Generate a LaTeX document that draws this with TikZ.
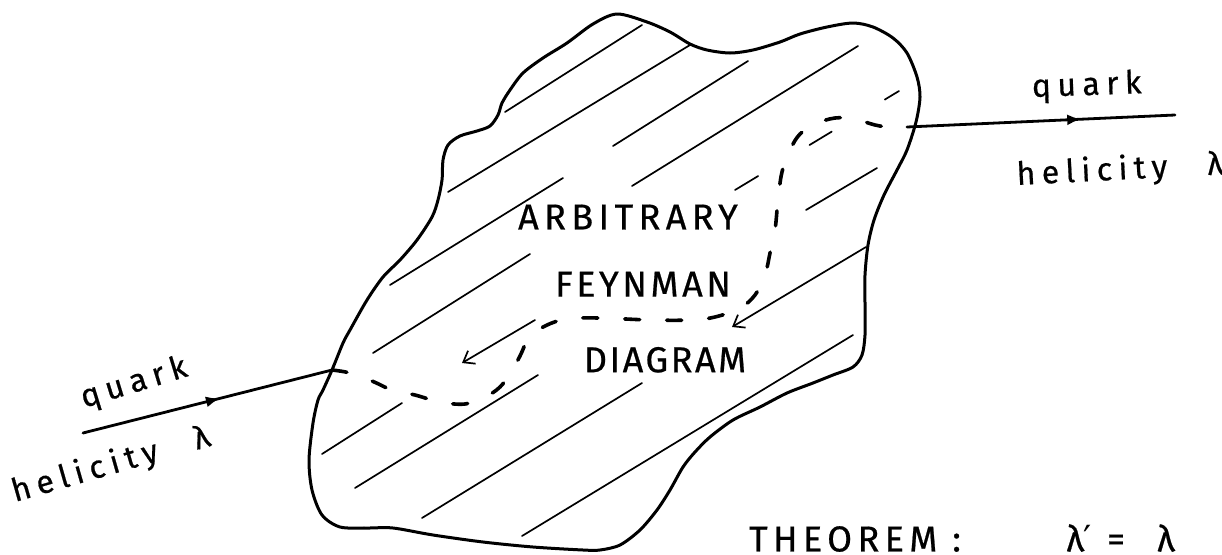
\documentclass[tikz,border=0pt]{standalone}
\usepackage{fontspec}
\setmainfont{Fira Sans}[FakeBold=0.6]
\newfontfamily\symbols{DejaVu Sans}
\usetikzlibrary{positioning,arrows.meta,decorations.markings}
\definecolor{ink}{RGB}{0,0,0}
\tikzset{
  outline/.style={draw=ink, line width=3pt, line join=round},
  hatch/.style={draw=ink, line width=1.7pt, line cap=round},
  backflow/.style={hatch, -{Straight Barb[length=10pt, width=15pt]}},
  quarkline/.style={draw=ink, line width=2.8pt, line cap=round, postaction=decorate,
    decoration={markings, mark=at position #1 with {\arrow{Latex[length=14pt, width=11pt]}}}},
  quarkline/.default=0.55,
  hidden/.style={draw=ink, line width=3.6pt, line cap=round, dash pattern=on 15pt off 27pt},
  word/.style={inner sep=0pt, text=ink, font=\fontsize{36}{40}\selectfont\addfontfeature{LetterSpace=15}},
  tight/.style={font=\fontsize{36}{40}\selectfont\addfontfeature{LetterSpace=#1}},
  tag/.style={inner sep=0pt, text=ink, font=\fontsize{32}{36}\selectfont\addfontfeature{LetterSpace=20}}
}

\begin{document}
\begin{tikzpicture}[x=1pt, y=-1pt, node distance=40pt]
  \useasboundingbox (0,0) rectangle (1222,554);

  \draw[outline] plot[smooth cycle, tension=0.5] coordinates {
    (617,14) (647,22) (670,32) (690,44) (707,50) (730,53) (753,50) (780,42) (800,34)
    (827,27) (853,23) (873,27) (893,38) (907,53) (917,77) (920,97) (916,122) (907,150)
    (897,170) (884,195) (874,220) (868,245) (865,275) (865,305) (865,335) (862,355)
    (853,367) (833,375) (813,383) (787,393) (760,407) (733,420) (710,437) (695,452)
    (683,467) (670,490) (657,510) (640,530) (620,545) (600,550) (583,550) (533,547)
    (483,542) (433,535) (393,528) (367,528) (340,527) (322,515) (312,490) (309,460)
    (313,423) (318,400) (323,390) (332,370) (343,343) (350,330) (367,300) (383,277)
    (400,260) (417,240) (432,217) (438,200) (442,180) (443,160) (448,145) (460,136)
    (477,131) (490,126) (498,115) (502,103) (510,90) (523,73) (543,58) (567,43) (593,24)};

  \draw[hatch] (505,112) -- (642,25);
  \draw[hatch] (448,192) -- (690,45);
  \draw[hatch] (613,146) -- (748,61);
  \draw[hatch] (632,186) -- (858,46);
  \draw[hatch] (390,285) -- (563,178);
  \draw[hatch] (373,353) -- (530,254);
  \draw[hatch] (322,454) -- (402,403);
  \draw[hatch] (355,488) -- (538,375);
  \draw[hatch] (422,518) -- (642,383);
  \draw[hatch] (522,536) -- (853,335);
  \draw[hatch] (806,210) -- (877,168);
  \draw[hatch, dash pattern=on 27pt off 60pt on 26pt off 62pt] (735,190) -- (899,91);
  \draw[backflow] (866,247) -- (732,327);
  \draw[backflow] (535,320) -- (462,363);

  \coordinate (qin) at (83,433);
  \coordinate (vin) at (332,370);
  \coordinate (vout) at (907,127);
  \coordinate (qout) at (1175,115);

  \draw[quarkline=0.55] (qin) -- (vin);
  \draw[quarkline=0.65] (vout) -- (qout);
  \draw[hidden] plot[smooth, tension=0.6] coordinates {
    (vin) (350,373) (372,381) (392,390) (415,395) (440,402) (465,404) (485,397) (500,387)
    (511,372) (520,356) (529,338) (545,326) (567,319) (600,318) (650,320) (690,320)
    (715,317) (740,308) (755,295) (765,275) (770,253) (775,230) (778,200) (782,172)
    (790,150) (800,134) (815,124) (835,118) (855,119) (875,125) (895,128) (vout)};

  \node[word] (arb) at (628,217) {ARBITRARY};
  \node[word, tight=10, below=42pt of arb, xshift=15pt] (fey) {FEYNMAN};
  \node[word, tight=7, below=50pt of fey, xshift=22pt] (dia) {DIAGRAM};

  \node[tag, rotate=17, anchor=base west] (qinlbl) at (84,408) {quark};
  \node[tag, rotate=16, anchor=base west] (hinlbl) at (15,502) {helicity\hspace{38pt}λ};
  \node[tag, rotate=2, anchor=base west] (qoutlbl) at (1032,97) {quark};
  \node[tag, rotate=3, anchor=base west] (houtlbl) at (1017,185) {helicity\hspace{40pt}λ{\symbols ′}};

  \node[word] (thm) at (855,539) {THEOREM :};
  \node[word, base right=105pt of thm] (eq) {λ{\symbols ′} =\hspace{32pt}λ};
\end{tikzpicture}
\end{document}
